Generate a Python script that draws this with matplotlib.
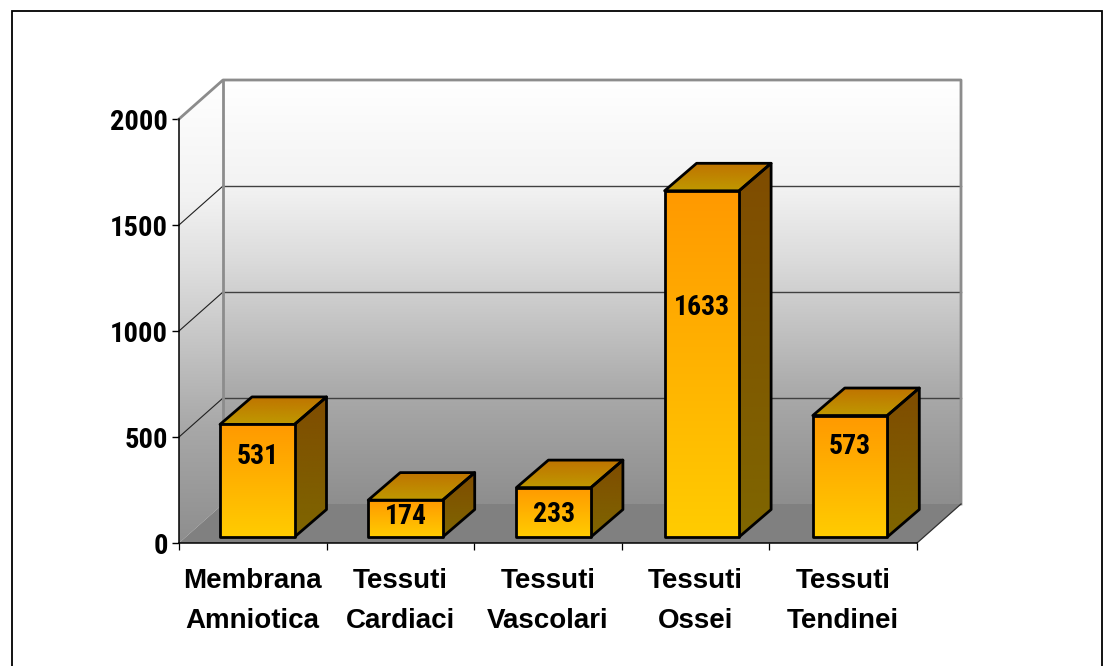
import matplotlib
matplotlib.use("Agg")
import matplotlib.pyplot as plt
import numpy as np
from matplotlib.patches import Polygon, Rectangle

categories = ["Membrana\nAmniotica", "Tessuti\nCardiaci", "Tessuti\nVascolari", "Tessuti\nOssei", "Tessuti\nTendinei"]
values = [531, 174, 233, 1633, 573]
y_ticks = [0, 500, 1000, 1500, 2000]

# where the number sits on the front face, as a share of bar height
label_share = [0.73, 0.62, 0.49, 0.67, 0.76]

W, H = 1109, 666
LEFT, RIGHT, BOTTOM, TOP = 179, 917, 543, 119

PX_X = 5 / (RIGHT - LEFT)
PX_Y = 2000 / (BOTTOM - TOP)

# depth of the box, in data units
DEPTH_X = 44 * PX_X
DEPTH_Y = 39 * PX_Y
BAR_DX = 32 * PX_X
BAR_DY = 27.5 * PX_Y
BAR_W = 74.5 * PX_X
BAR_STEP = 148.2 * PX_X
BAR_PAD = 41 * PX_X
BAR_BASE = 6 * PX_Y

fig = plt.figure(figsize=(W / 100, H / 100), dpi=100, facecolor="white")
ax = fig.add_axes([LEFT / W, 1 - BOTTOM / H, (RIGHT - LEFT) / W, (BOTTOM - TOP) / H])


def gradient_poly(verts, top_color, bottom_color, zorder, edge=None, lw=0, mid=None):
    verts = np.array(verts)
    poly = Polygon(verts, closed=True, facecolor="none", edgecolor="none", transform=ax.transData)
    ax.add_patch(poly)
    poly.set_clip_on(False)
    t = np.linspace(0, 1, 256)[:, None, None]
    if mid is not None:
        t = np.interp(t, mid[0], mid[1])
    c0 = np.array(matplotlib.colors.to_rgb(bottom_color))[None, None, :]
    c1 = np.array(matplotlib.colors.to_rgb(top_color))[None, None, :]
    img = np.repeat(c0 + (c1 - c0) * t, 2, axis=1)
    extent = (verts[:, 0].min(), verts[:, 0].max(), verts[:, 1].min(), verts[:, 1].max())
    im = ax.imshow(img, extent=extent, origin="lower", aspect="auto", zorder=zorder, interpolation="bilinear")
    im.set_clip_box(fig.bbox)
    im.set_clip_path(poly)
    if edge:
        ax.add_patch(Polygon(verts, closed=True, facecolor="none", edgecolor=edge, linewidth=lw,
                             joinstyle="round", zorder=zorder + 0.1, clip_on=False))


# the wall shading is lighter towards the top than a straight ramp
wall_ramp = ([0, 0.25, 0.58, 0.75, 1], [0, 0.23, 0.69, 0.89, 1])

# walls and floor
gradient_poly([(DEPTH_X, DEPTH_Y), (5 + DEPTH_X, DEPTH_Y), (5 + DEPTH_X, 2000 + DEPTH_Y), (DEPTH_X, 2000 + DEPTH_Y)],
              "#ffffff", "#8e8e8e", 1, mid=wall_ramp)
gradient_poly([(0, 0), (DEPTH_X, DEPTH_Y), (DEPTH_X, 2000 + DEPTH_Y), (0, 2000)], "#ffffff", "#8e8e8e", 1, mid=wall_ramp)
ax.add_patch(Polygon([(0, 0), (5, 0), (5 + DEPTH_X, DEPTH_Y), (DEPTH_X, DEPTH_Y)], closed=True,
                     facecolor="#808080", edgecolor="none", zorder=1.5, clip_on=False))

for t in y_ticks[1:-1]:
    ax.plot([DEPTH_X, 5 + DEPTH_X], [t + DEPTH_Y, t + DEPTH_Y], color="#404040", lw=1.0, zorder=2, clip_on=False)
    ax.plot([0, DEPTH_X], [t, t + DEPTH_Y], color="#202020", lw=0.8, zorder=2, clip_on=False)

wall = "#8c8c8c"
ax.plot([0, DEPTH_X, 5 + DEPTH_X, 5 + DEPTH_X], [2000, 2000 + DEPTH_Y, 2000 + DEPTH_Y, DEPTH_Y],
        color=wall, lw=2.0, zorder=2, clip_on=False)
ax.plot([DEPTH_X, DEPTH_X], [DEPTH_Y, 2000 + DEPTH_Y], color=wall, lw=2.0, zorder=2, clip_on=False)
ax.plot([5, 5 + DEPTH_X], [0, DEPTH_Y], color="#303030", lw=0.9, zorder=2, clip_on=False)

# bars
for i, v in enumerate(values):
    x0 = i * BAR_STEP + BAR_PAD
    x1 = x0 + BAR_W
    y0 = BAR_BASE
    y1 = BAR_BASE + v
    gradient_poly([(x1, y0), (x1 + BAR_DX, y0 + BAR_DY), (x1 + BAR_DX, y1 + BAR_DY), (x1, y1)],
                  "#7f4c00", "#7f6600", 3, "black", 2.0)
    gradient_poly([(x0, y1), (x1, y1), (x1 + BAR_DX, y1 + BAR_DY), (x0 + BAR_DX, y1 + BAR_DY)],
                  "#bf7300", "#bf9900", 3, "black", 2.0)
    gradient_poly([(x0, y0), (x1, y0), (x1, y1), (x0, y1)], "#ff9900", "#ffcc00", 4, "black", 2.0)
    ax.text((x0 + x1) / 2, y0 + v * label_share[i] - 2 * PX_Y, str(v), ha="center", va="center", zorder=6,
            family="Roboto Condensed", fontweight="bold", fontsize=20, color="black")

ax.set_xlim(0, 5)
ax.set_ylim(0, 2000)
ax.patch.set_visible(False)
for side in ("top", "right"):
    ax.spines[side].set_visible(False)
for side in ("left", "bottom"):
    ax.spines[side].set_linewidth(1.1)
    ax.spines[side].set_zorder(5)

ax.set_yticks(y_ticks)
ax.set_yticklabels([str(t) for t in y_ticks], family="Roboto Condensed", fontweight="bold", fontsize=20.5)
ax.tick_params(axis="y", length=5, width=1, pad=3)

ax.set_xticks(range(6))
ax.set_xticklabels([])
ax.set_xticks(np.arange(5) + 0.5, minor=True)
ax.set_xticklabels(categories, minor=True, family="Liberation Sans", fontweight="bold", fontsize=20, linespacing=1.72)
ax.tick_params(axis="x", which="major", length=5, width=0.9)
ax.tick_params(axis="x", which="minor", length=0, pad=18)

# outer frame runs off the bottom of the picture
fig.add_artist(Rectangle((12 / W, -0.05), (1102 - 12) / W, 1.05 - 11 / H, transform=fig.transFigure,
                         facecolor="none", edgecolor="black", linewidth=1.3))

fig.savefig("out.png", dpi=100)
